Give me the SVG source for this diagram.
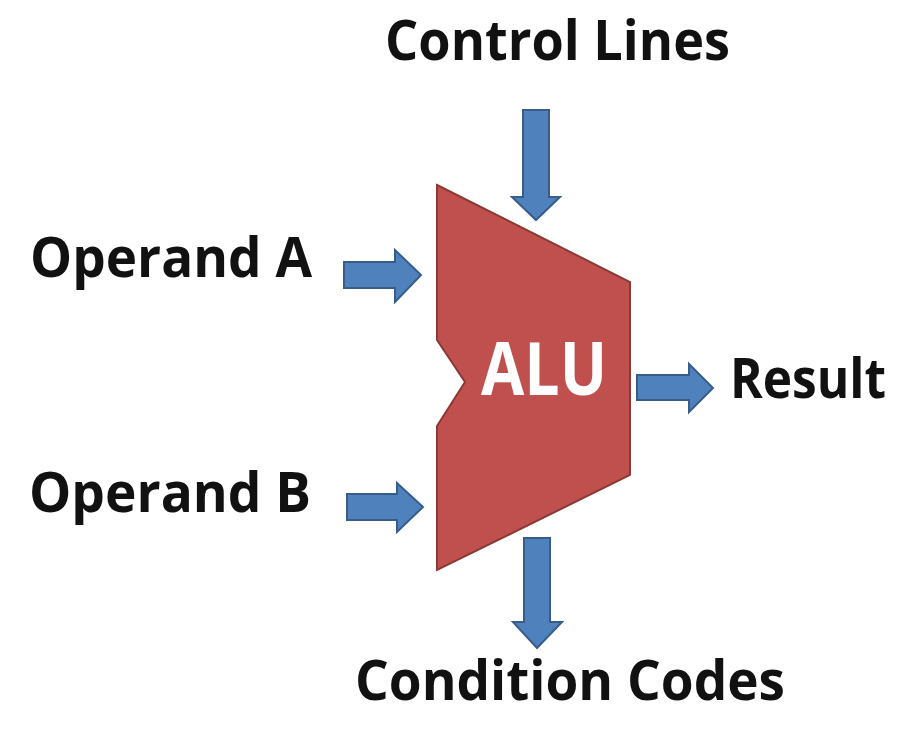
<svg xmlns="http://www.w3.org/2000/svg" width="901" height="735" viewBox="0 0 901 735">
  <style>
    .lbl { font-family: "Open Sans", "Liberation Sans", sans-serif; font-weight: bold; font-size: 55px; fill: #111111; }
    .alu-text { font-family: "Open Sans", "Liberation Sans", sans-serif; font-weight: bold; font-size: 74px; fill: #ffffff; }
    .alu { fill: #C0504D; stroke: #8C3836; stroke-width: 2; stroke-linejoin: miter; }
    .arrow { fill: #4F81BD; stroke: #385D8A; stroke-width: 2; stroke-linejoin: miter; }
  </style>
  <rect width="901" height="735" fill="#ffffff"/>

  <g id="alu">
    <polygon class="alu" points="437,185 630,282 630,475 437,570 437,426 465,382 437,340"/>
    <text class="alu-text" x="481" y="395" textLength="126" lengthAdjust="spacingAndGlyphs">ALU</text>
  </g>

  <g id="control-lines">
    <text class="lbl" x="385" y="60" textLength="345" lengthAdjust="spacingAndGlyphs">Control Lines</text>
  </g>
  <g id="operand-a">
    <text class="lbl" x="30" y="277" textLength="282" lengthAdjust="spacingAndGlyphs">Operand A</text>
  </g>
  <g id="operand-b">
    <text class="lbl" x="29" y="512" textLength="282" lengthAdjust="spacingAndGlyphs">Operand B</text>
  </g>
  <g id="result">
    <text class="lbl" x="730" y="398" textLength="156" lengthAdjust="spacingAndGlyphs">Result</text>
  </g>
  <g id="condition-codes">
    <text class="lbl" x="355" y="700" textLength="430" lengthAdjust="spacingAndGlyphs">Condition Codes</text>
  </g>

  <g id="connectors">
    <!-- Control Lines down arrow -->
    <polygon class="arrow" points="523,110 549,110 549,197 560,197 536,220 512,197 523,197"/>
    <!-- Operand A right arrow -->
    <polygon class="arrow" points="344,262 395,262 395,250 421,275 395,302 395,288 344,288"/>
    <!-- Operand B right arrow -->
    <polygon class="arrow" points="347,494 397,494 397,483 423,507 397,532 397,520 347,520"/>
    <!-- Result right arrow -->
    <polygon class="arrow" points="637,375 689,375 689,364 713,388 689,412 689,400 637,400"/>
    <!-- Condition Codes down arrow -->
    <polygon class="arrow" points="524,538 550,538 550,622 562,622 537,648 513,622 524,622"/>
  </g>
</svg>
